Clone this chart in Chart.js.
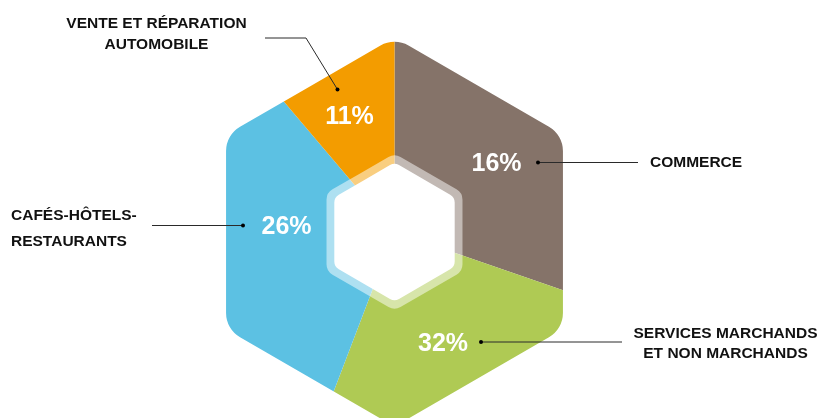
<!DOCTYPE html>
<html>
<head>
<meta charset="utf-8">
<script src="https://cdn.jsdelivr.net/npm/chart.js@4/dist/chart.umd.min.js"></script>
<style>
  html, body { margin: 0; padding: 0; background: #fff; overflow: hidden; }
  #wrap { position: relative; width: 822px; height: 470px; }
</style>
</head>
<body>
<div id="wrap"><canvas id="hexChart"></canvas></div>
<script>
// Sectors, clockwise from the top
const categories = ['COMMERCE', 'SERVICES MARCHANDS ET NON MARCHANDS', 'CAFÉS-HÔTELS-RESTAURANTS', 'VENTE ET RÉPARATION AUTOMOBILE'];
// percentages printed on the chart
const percents = [16, 32, 26, 11];
// share of the hexagon each sector takes in the picture
const sectorShares = [30.3, 25.5, 33.0, 11.2];
const colors = ['#857369', '#afca54', '#5cc1e3', '#f39c00'];

// label layout: text lines, where the percent sits, the dot and the leader line
const callouts = [
    { lines: ['COMMERCE'], align: 'left', tx: 650, ty: [162],
      px: 496.5, py: 163, path: [[538, 162.5], [638, 162.5]] },
    { lines: ['SERVICES MARCHANDS', 'ET NON MARCHANDS'], align: 'center', tx: 725.5, ty: [332.5, 352.5],
      px: 443, py: 343, path: [[481, 342], [622, 342]] },
    { lines: ['CAFÉS-HÔTELS-', 'RESTAURANTS'], align: 'left', tx: 11, ty: [215, 240.5],
      px: 286.5, py: 226.5, path: [[243, 225.5], [152, 225.5]] },
    { lines: ['VENTE ET RÉPARATION', 'AUTOMOBILE'], align: 'center', tx: 156.5, ty: [22.5, 43.5],
      px: 349.5, py: 116.5, path: [[337.5, 89.5], [306, 38], [265, 38]] }
];

function hexPath(ctx, cx, cy, R, rc) {
    const pts = [];
    for (let k = 0; k < 6; k++) {
        const a = (-90 + 60 * k) * Math.PI / 180;
        pts.push([cx + R * Math.cos(a), cy + R * Math.sin(a)]);
    }
    ctx.beginPath();
    ctx.moveTo((pts[5][0] + pts[0][0]) / 2, (pts[5][1] + pts[0][1]) / 2);
    for (let k = 0; k < 6; k++) {
        const p = pts[k], n = pts[(k + 1) % 6];
        ctx.arcTo(p[0], p[1], n[0], n[1], rc);
    }
    ctx.closePath();
}

const hexPlugin = {
    id: 'hexShape',
    beforeDatasetsDraw(chart) {
        const arc = chart.getDatasetMeta(0).data[0];
        const ctx = chart.ctx;
        ctx.save();
        hexPath(ctx, arc.x, arc.y, 194.5, 28);
        ctx.clip();
    },
    afterDatasetsDraw(chart) {
        const arc = chart.getDatasetMeta(0).data[0];
        const ctx = chart.ctx;
        ctx.restore();

        // hole: translucent ring then white hexagon
        ctx.save();
        hexPath(ctx, arc.x, arc.y, 78.5, 12);
        ctx.fillStyle = 'rgba(255,255,255,0.5)';
        ctx.fill();
        hexPath(ctx, arc.x, arc.y, 69.5, 9);
        ctx.fillStyle = '#fff';
        ctx.fill();
        ctx.restore();

        // percentages and callouts
        ctx.save();
        ctx.textBaseline = 'middle';
        callouts.forEach((c, i) => {
            ctx.fillStyle = '#fff';
            ctx.textAlign = 'center';
            ctx.font = '700 25px "Liberation Sans", Arial, sans-serif';
            ctx.fillText(percents[i] + '%', c.px, c.py + 1);

            ctx.strokeStyle = '#2a2a2a';
            ctx.lineWidth = 1;
            ctx.beginPath();
            c.path.forEach((p, j) => j ? ctx.lineTo(p[0], p[1]) : ctx.moveTo(p[0], p[1]));
            ctx.stroke();
            ctx.fillStyle = '#000';
            ctx.beginPath();
            ctx.arc(c.path[0][0], c.path[0][1], 2, 0, Math.PI * 2);
            ctx.fill();

            ctx.fillStyle = '#111';
            ctx.textAlign = c.align;
            ctx.font = '700 15.5px "Liberation Sans", Arial, sans-serif';
            c.lines.forEach((t, j) => ctx.fillText(t, c.tx, c.ty[j] + 1));
        });
        ctx.restore();
    }
};

new Chart(document.getElementById('hexChart'), {
    type: 'doughnut',
    data: {
        labels: categories,
        datasets: [{
            data: sectorShares,
            backgroundColor: colors,
            borderWidth: 0
        }]
    },
    options: {
        responsive: true,
        maintainAspectRatio: false,
        animation: false,
        cutout: 0,
        layout: { padding: { left: 0, right: 33, top: 0, bottom: 6 } },
        plugins: {
            legend: { display: false },
            tooltip: { enabled: false }
        }
    },
    plugins: [hexPlugin]
});
</script>
</body>
</html>
